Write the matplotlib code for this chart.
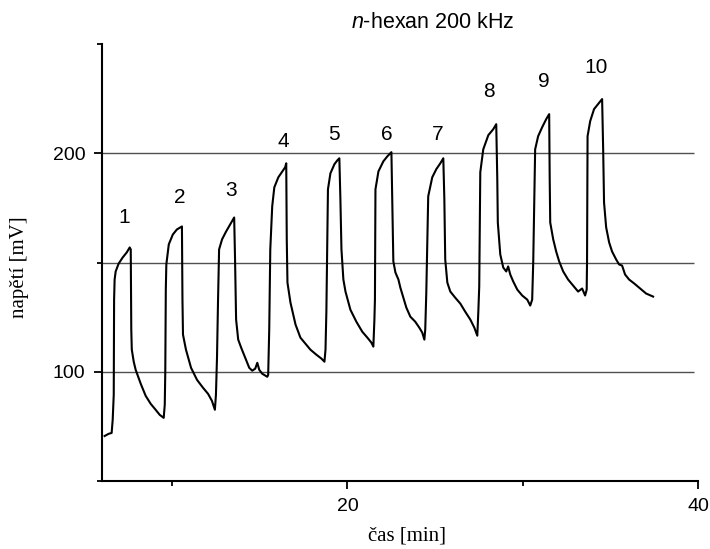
import matplotlib
matplotlib.use("Agg")
import matplotlib.pyplot as plt
from matplotlib.ticker import MultipleLocator

plt.rcParams["font.family"] = ["Liberation Sans", "DejaVu Sans"]
plt.rcParams["mathtext.fontset"] = "custom"
plt.rcParams["mathtext.it"] = "Liberation Sans:italic"
plt.rcParams["mathtext.rm"] = "Liberation Sans"

# signal trace: time [min], voltage [mV]
TIME = [
    6.15, 6.38, 6.55,
    6.61, 6.67, 6.69, 6.72, 6.78, 6.95, 7.18, 7.41, 7.58,
    7.64, 7.67, 7.70, 7.81, 7.92, 8.21, 8.49, 8.78, 9.06, 9.29, 9.52,
    9.58, 9.61, 9.64, 9.67, 9.81, 10.04, 10.27, 10.56,
    10.59, 10.62, 10.79, 11.08, 11.42, 11.76, 12.05, 12.27, 12.44,
    12.50, 12.56, 12.62, 12.68, 12.85, 13.08, 13.31, 13.54,
    13.59, 13.65, 13.77, 13.94, 14.17, 14.40, 14.57, 14.74, 14.86, 14.97, 15.14, 15.43,
    15.48, 15.54, 15.60, 15.71, 15.83, 16.06, 16.29, 16.45, 16.51,
    16.54, 16.58, 16.75, 17.04, 17.32, 17.61, 17.89, 18.23, 18.52, 18.69,
    18.75, 18.80, 18.86, 18.89, 19.03, 19.26, 19.43, 19.54,
    19.60, 19.66, 19.77, 19.89, 20.17, 20.51, 20.85, 21.14, 21.37, 21.48,
    21.54, 21.57, 21.60, 21.77, 22.05, 22.28, 22.51,
    22.56, 22.62, 22.74, 22.91, 23.02, 23.19, 23.36, 23.59, 23.87, 24.10, 24.27, 24.39,
    24.44, 24.50, 24.61, 24.84, 25.07, 25.30, 25.47,
    25.53, 25.58, 25.70, 25.87, 26.15, 26.44, 26.72, 27.01, 27.24, 27.41,
    27.47, 27.52, 27.58, 27.75, 28.04, 28.32, 28.49,
    28.55, 28.58, 28.72, 28.89, 29.06, 29.17, 29.29, 29.46, 29.69, 29.97, 30.26, 30.43,
    30.54, 30.60, 30.71, 30.88, 31.11, 31.34, 31.51,
    31.54, 31.57, 31.74, 31.91, 32.08, 32.31, 32.59, 32.88, 33.16, 33.39, 33.56,
    33.65, 33.67, 33.70, 33.85, 34.07, 34.30, 34.53,
    34.59, 34.64, 34.76, 34.93, 35.10, 35.33, 35.50, 35.67, 35.84, 36.07, 36.36, 36.70, 37.04, 37.44,
]
VOLTAGE = [
    70.6, 71.6, 72.0,
    78.0, 89.5, 133.0, 142.2, 145.9, 149.5, 152.3, 154.6, 156.9,
    156.0, 119.3, 110.1, 104.6, 100.9, 94.5, 89.0, 85.3, 82.6, 80.3, 78.9,
    84.9, 100.0, 137.6, 149.1, 158.3, 162.8, 165.1, 166.5,
    133.0, 117.0, 110.1, 101.8, 96.3, 92.7, 89.9, 86.7, 82.6,
    89.5, 106.4, 133.0, 156.0, 160.6, 164.2, 167.4, 170.6,
    151.4, 123.9, 114.7, 111.0, 106.4, 101.8, 100.5, 101.4, 104.1, 100.9, 99.1, 97.7,
    98.6, 119.3, 156.0, 175.7, 184.4, 189.0, 191.7, 193.6, 195.4,
    160.6, 140.8, 131.7, 121.6, 115.6, 112.8, 110.1, 107.8, 106.0, 104.6,
    110.1, 127.5, 165.1, 183.5, 190.8, 195.0, 196.8, 197.7,
    178.9, 156.0, 142.2, 136.7, 128.4, 122.9, 118.3, 115.6, 113.3, 111.5,
    123.9, 133.0, 183.5, 191.7, 196.3, 198.6, 200.5,
    178.9, 150.5, 145.4, 142.2, 138.5, 133.9, 129.4, 125.2, 122.9, 120.2, 117.9, 114.7,
    119.3, 136.2, 180.3, 189.0, 192.7, 195.4, 197.7,
    178.9, 151.4, 140.8, 136.7, 133.9, 131.2, 127.5, 123.9, 120.2, 116.5,
    127.9, 139.0, 191.3, 201.8, 208.3, 211.0, 213.3,
    188.1, 168.3, 153.7, 147.7, 145.9, 148.2, 144.5, 141.3, 137.6, 134.9, 133.0, 130.3,
    133.0, 150.0, 201.8, 207.8, 211.9, 215.6, 217.9,
    188.1, 168.3, 160.6, 155.0, 150.5, 145.9, 142.2, 139.4, 136.7, 138.1, 134.9,
    137.6, 150.5, 207.8, 214.7, 220.2, 222.5, 224.8,
    201.8, 177.5, 166.1, 159.2, 155.0, 151.4, 149.1, 148.6, 144.5, 142.2, 140.4, 138.1, 135.8, 134.4,
]

# pulse numbers and where they are written
PULSE_NAMES = ["1", "2", "3", "4", "5", "6", "7", "8", "9", "10"]
PULSE_LABEL_X = [7.24, 10.43, 13.38, 16.32, 19.26, 22.22, 25.13, 28.05, 31.19, 34.21]
PULSE_LABEL_Y = [170.6, 179.8, 183.0, 205.5, 208.7, 208.7, 208.7, 228.4, 233.0, 239.4]

GRID_LEVELS = [100, 150, 200]

fig = plt.figure(figsize=(7.10, 5.49), dpi=100)
ax = fig.add_axes([102 / 710, 68 / 549, 596 / 710, 437 / 549])

ax.hlines(GRID_LEVELS, 6, 39.8, color="#505050", linewidth=1.0, zorder=1)
ax.plot(TIME, VOLTAGE, color="black", linewidth=1.5, zorder=2)

for name, x, y in zip(PULSE_NAMES, PULSE_LABEL_X, PULSE_LABEL_Y):
    ax.text(x, y, name, fontsize=15, ha="center", va="center")

ax.set_xlim(6, 40)
ax.set_ylim(50, 250)
ax.xaxis.set_major_locator(MultipleLocator(20))
ax.xaxis.set_minor_locator(MultipleLocator(10))
ax.yaxis.set_major_locator(MultipleLocator(100))
ax.yaxis.set_minor_locator(MultipleLocator(50))

for side in ("top", "right"):
    ax.spines[side].set_visible(False)
for side in ("left", "bottom"):
    ax.spines[side].set_linewidth(1.5)

ax.tick_params(which="major", direction="out", length=6, width=1.3, labelsize=14, pad=6)
ax.tick_params(which="minor", direction="out", length=3.5, width=1.3)

fig.text(433 / 710, 1 - 23 / 549, "$n$-hexan 200 kHz", fontsize=15.5, ha="center", va="center")
fig.text(407 / 710, 1 - 536 / 549, "čas [min]", family="Liberation Serif", fontsize=15,
         ha="center", va="center")
fig.text(20 / 710, 1 - 267 / 549, "napětí [mV]", family="Liberation Serif", fontsize=15,
         ha="center", va="center", rotation=90)

fig.savefig("out.png", dpi=100)
